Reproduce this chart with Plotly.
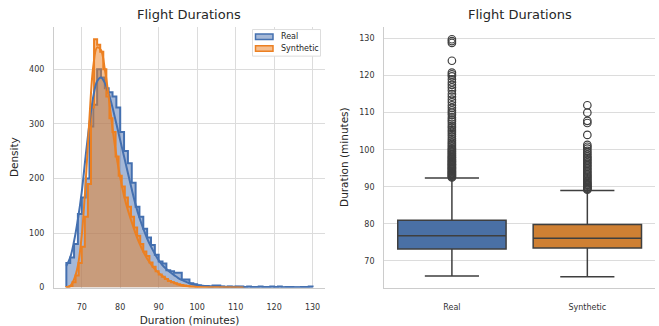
import plotly.graph_objects as go

# ---------------- data ----------------
real_bin_start = 66.0
real_bin_width = 1.0
real_density = [45, 55, 80, 135, 165, 200, 295, 335, 400, 385, 365, 358, 350, 330, 285, 250,
                228, 192, 148, 130, 108, 92, 78, 60, 48, 44, 32, 30, 27, 27, 15, 15, 8, 6, 4, 3,
                3, 2, 4, 4, 2, 1, 2, 1, 2, 2, 1, 2, 1, 1, 2, 1, 1, 2, 1, 2, 0, 1, 1, 0, 0, 1, 1, 2]

syn_bin_start = 66.0
syn_bin_width = 0.8
syn_density = [1, 3, 10, 22, 45, 75, 130, 190, 330, 455, 445, 432, 400, 350, 310, 285, 240, 205,
               185, 165, 148, 130, 110, 95, 80, 66, 58, 46, 38, 30, 24, 20, 16, 12, 10, 8, 6, 5,
               4, 3, 2, 2, 1, 1, 1, 0.5, 0.3, 0.5, 0.2, 0.2, 0.1, 0.2, 0.2, 0.1, 0.1, 0.1, 0.1, 0.1]

real_kde_x = [66, 67, 68, 69, 70, 71, 72, 73, 74, 75, 76, 77, 78, 79, 80, 81, 82, 83, 84, 85, 86,
              87, 88, 89, 90, 91, 92, 93, 94, 95, 96, 97, 98, 99, 100, 102, 105, 110, 115, 120, 125, 130]
real_kde_y = [40, 55, 85, 125, 175, 240, 300, 350, 378, 385, 375, 355, 330, 300, 270, 240, 210, 180,
              152, 128, 108, 90, 75, 62, 50, 41, 34, 28, 23, 18, 14, 11, 8, 6, 5, 3, 2, 1.5, 1, 1, 0.7, 0.5]

syn_kde_x = [66, 67, 68, 69, 70, 71, 72, 73, 74, 75, 76, 77, 78, 79, 80, 81, 82, 83, 84, 85, 86,
             87, 88, 89, 90, 91, 92, 93, 94, 95, 96, 98, 100, 105, 112]
syn_kde_y = [0, 3, 15, 40, 95, 190, 310, 405, 440, 435, 400, 350, 292, 242, 202, 168, 142, 120, 99,
             81, 66, 53, 43, 34, 27, 21, 16, 12, 9, 6, 4, 2, 1, 0.5, 0]

categories = ["Real", "Synthetic"]
box_q1 = [73.2, 73.5]
box_median = [76.8, 76.1]
box_q3 = [81.0, 79.8]
box_low = [65.9, 65.7]
box_high = [92.4, 89.0]

real_outliers = [92.5, 92.7, 92.9, 93.1, 93.3, 93.5, 93.7, 93.9, 94.1, 94.3, 94.6, 94.8, 95.0, 95.2,
                 95.4, 95.7, 95.9, 96.1, 96.3, 96.6, 96.8, 97.0, 97.3, 97.5, 97.8, 98.0, 98.3, 98.6,
                 98.9, 99.2, 99.5, 99.8, 100.1, 100.4, 100.8, 101.2, 101.6, 102.0, 102.5, 103.0,
                 103.6, 104.2, 104.8, 105.3, 105.9, 106.4, 107.0, 107.6, 108.1, 108.7, 109.4, 110.0,
                 110.6, 111.3, 112.0, 112.8, 113.5, 114.3, 115.0, 116.0, 116.8, 117.5, 118.2, 119.0,
                 119.8, 120.3, 120.8, 124.0, 128.8, 129.3, 129.8]
syn_outliers = [89.2, 89.4, 89.6, 89.8, 90.0, 90.3, 90.5, 90.7, 91.0, 91.3, 91.6, 92.0, 92.3, 92.7,
                93.0, 93.4, 93.8, 94.2, 94.6, 95.0, 95.4, 95.8, 96.2, 96.6, 97.0, 97.4, 97.8, 98.2,
                98.7, 99.2, 99.7, 100.3, 100.8, 101.3, 104.0, 107.2, 107.8, 110.0, 112.0]

x_ticks = [70, 80, 90, 100, 110, 120, 130]
y_ticks_hist = [0, 100, 200, 300, 400]
y_ticks_box = [70, 80, 90, 100, 110, 120, 130]

# ---------------- styles ----------------
BLUE = "#4470b0"
ORANGE = "#ec8022"
BLUE_FILL = "rgba(76,114,176,0.5)"
ORANGE_FILL = "rgba(236,128,34,0.5)"
BOX_BLUE = "#4a70a5"
BOX_ORANGE = "#cf8033"
DARK = "#3f3f3f"
GRID = "#dcdcdc"
SPINE = "#cccccc"
TXT = "#262626"
FONT = "DejaVu Sans"
W, H = 659, 326


def step_xy(start, width, vals):
    xs = [start]
    ys = [0]
    for i, v in enumerate(vals):
        xs.append(start + i * width)
        ys.append(v)
    end = start + len(vals) * width
    xs += [end, end]
    ys += [vals[-1], 0]
    return xs, ys


fig = go.Figure()

rx, ry = step_xy(real_bin_start, real_bin_width, real_density)
sx, sy = step_xy(syn_bin_start, syn_bin_width, syn_density)

fig.add_trace(go.Scatter(x=rx, y=ry, mode="lines", line=dict(shape="hv", color=BLUE, width=2),
                         fill="tozeroy", fillcolor=BLUE_FILL, name="Real", xaxis="x", yaxis="y"))
fig.add_trace(go.Scatter(x=sx, y=sy, mode="lines", line=dict(shape="hv", color=ORANGE, width=2),
                         fill="tozeroy", fillcolor=ORANGE_FILL, name="Synthetic", xaxis="x", yaxis="y"))
fig.add_trace(go.Scatter(x=real_kde_x, y=real_kde_y, mode="lines",
                         line=dict(shape="spline", color=BLUE, width=2), showlegend=False,
                         xaxis="x", yaxis="y"))
fig.add_trace(go.Scatter(x=syn_kde_x, y=syn_kde_y, mode="lines",
                         line=dict(shape="spline", color=ORANGE, width=2), showlegend=False,
                         xaxis="x", yaxis="y"))

box_colors = [BOX_BLUE, BOX_ORANGE]
outliers = [real_outliers, syn_outliers]
for i, cat in enumerate(categories):
    fig.add_trace(go.Box(x=[i], q1=[box_q1[i]], median=[box_median[i]], q3=[box_q3[i]],
                         lowerfence=[box_low[i]], upperfence=[box_high[i]],
                         width=0.8, whiskerwidth=0.5, fillcolor=box_colors[i],
                         line=dict(color=DARK, width=1.5), boxpoints=False,
                         showlegend=False, xaxis="x2", yaxis="y2", hoverinfo="skip"))
    fig.add_trace(go.Scatter(x=[i] * len(outliers[i]), y=outliers[i], mode="markers",
                             marker=dict(symbol="circle-open", size=7.5, color=DARK,
                                         line=dict(width=1.2, color=DARK)),
                             showlegend=False, xaxis="x2", yaxis="y2"))

tickfont = dict(family=FONT, size=8, color="#333333")
titlefont = dict(family=FONT, size=10.5, color=TXT)


def px(x):
    return x / W


def py(y):
    return 1 - y / H


# manual legend (seaborn style)
shapes = [
    dict(type="rect", xref="paper", yref="paper", x0=px(252.5), x1=px(320.5), y0=py(57), y1=py(30),
         line=dict(color="#dddddd", width=1), fillcolor="white", layer="above"),
    dict(type="rect", xref="paper", yref="paper", x0=px(255.5), x1=px(273), y0=py(40), y1=py(34.5),
         line=dict(color=BLUE, width=1.5), fillcolor="rgba(76,114,176,0.5)", layer="above"),
    dict(type="rect", xref="paper", yref="paper", x0=px(255.5), x1=px(273), y0=py(52), y1=py(46.5),
         line=dict(color=ORANGE, width=1.5), fillcolor="rgba(236,128,34,0.5)", layer="above"),
]
legend_labels = [fig.data[0].name, fig.data[1].name]
annotations = [
    dict(text=legend_labels[0], x=px(279), y=py(37), xref="paper", yref="paper", showarrow=False,
         xanchor="left", yanchor="middle", font=dict(family=FONT, size=8, color=TXT)),
    dict(text=legend_labels[1], x=px(279), y=py(49), xref="paper", yref="paper", showarrow=False,
         xanchor="left", yanchor="middle", font=dict(family=FONT, size=8, color=TXT)),
    dict(text="Flight Durations", x=0.2875, y=py(15), xref="paper", yref="paper",
         showarrow=False, font=dict(family=FONT, size=13, color=TXT),
         xanchor="center", yanchor="middle"),
    dict(text="Flight Durations", x=0.7885, y=py(15), xref="paper", yref="paper",
         showarrow=False, font=dict(family=FONT, size=13, color=TXT),
         xanchor="center", yanchor="middle"),
]

fig.update_layout(
    width=W, height=H,
    margin=dict(l=0, r=0, t=0, b=0),
    paper_bgcolor="white", plot_bgcolor="white",
    font=dict(family=FONT, color=TXT),
    showlegend=False,
    xaxis=dict(domain=[0.082, 0.493], range=[62.8, 133.2], tickvals=x_ticks,
               showgrid=True, gridcolor=GRID, gridwidth=1, zeroline=False,
               showline=True, linecolor=SPINE, linewidth=1.2,
               ticks="outside", ticklen=12, tickcolor="rgba(0,0,0,0)", tickfont=tickfont,
               title=dict(text="Duration (minutes)", font=titlefont, standoff=6),
               anchor="y"),
    yaxis=dict(domain=[0.104, 0.917], range=[0, 478], tickvals=y_ticks_hist,
               showgrid=True, gridcolor=GRID, gridwidth=1, zeroline=False,
               showline=True, linecolor=SPINE, linewidth=1.2,
               ticks="outside", ticklen=7, tickcolor="rgba(0,0,0,0)", tickfont=tickfont,
               title=dict(text="Density", font=titlefont, standoff=8),
               anchor="x"),
    xaxis2=dict(domain=[0.583, 0.994], range=[-0.5, 1.5], tickvals=[0, 1], ticktext=categories,
                showgrid=False, zeroline=False,
                showline=True, linecolor=SPINE, linewidth=1.2,
                ticks="outside", ticklen=12, tickcolor="rgba(0,0,0,0)", tickfont=tickfont,
                anchor="y2"),
    yaxis2=dict(domain=[0.104, 0.917], range=[62.8, 133.2], tickvals=y_ticks_box,
                showgrid=True, gridcolor=GRID, gridwidth=1, zeroline=False,
                showline=True, linecolor=SPINE, linewidth=1.2,
                ticks="outside", ticklen=7, tickcolor="rgba(0,0,0,0)", tickfont=tickfont,
                title=dict(text="Duration (minutes)", font=titlefont, standoff=8),
                anchor="x2"),
    shapes=shapes,
    annotations=annotations,
)

fig.write_html("out.html")
